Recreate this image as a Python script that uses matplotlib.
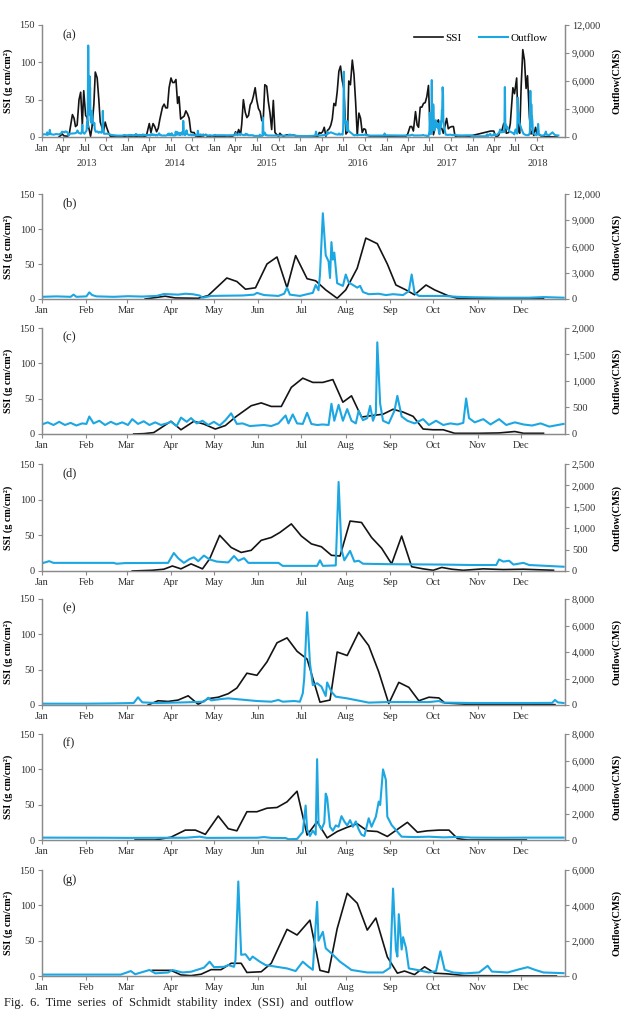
import numpy as np
import pandas as pd
import matplotlib
matplotlib.use('Agg')
import matplotlib.pyplot as plt
from matplotlib.ticker import StrMethodFormatter

plt.rcParams['font.family'] = ['Liberation Serif', 'DejaVu Serif']

## Data (day of year) ###########################################
years = [2013, 2014, 2015, 2016, 2017, 2018]
month_labels = ['Jan', 'Feb', 'Mar', 'Apr', 'May', 'Jun',
                'Jul', 'Aug', 'Sep', 'Oct', 'Nov', 'Dec']
month_days = [0, 31, 59, 90, 120, 151, 181, 212, 243, 273, 304, 334]
quarter_labels = ['Jan', 'Apr', 'Jul', 'Oct']

# SSI (g cm/cm2)
ssi_days_2013 = [72, 86, 93, 109, 116, 129, 136, 142, 149, 157,
                 164, 171, 177, 185, 191, 198, 206, 212, 220, 226,
                 234, 241, 247, 254, 260, 268, 274, 283, 290, 310,
                 330, 350]
ssi_2013 = [0, 4, 1.5, 1, 5, 30, 25, 14, 16, 50,
            60, 16, 62, 29, 26, 13, 1, 13, 44, 87,
            79, 50, 20, 13, 6, 20, 13, 5, 1, 0.5,
            0.5, 0.5]

ssi_days_2014 = [64, 71, 78, 90, 97, 106, 113, 121, 128, 135,
                 146, 153, 160, 167, 174, 182, 189, 196, 203, 210,
                 216, 223, 230, 238, 245, 252, 259, 266, 273, 280,
                 288, 297, 305, 319, 330, 336, 350]
ssi_2014 = [0, 0.5, 2, 18, 6, 18, 14, 7, 12, 24,
            40, 44, 39, 39, 66, 79, 73, 73, 77, 45,
            54, 24, 26, 28, 35, 31, 25, 7, 6, 6,
            1, 1, 1, 1.5, 3.5, 1, 1]

ssi_days_2015 = [63, 77, 85, 91, 97, 104, 112, 117, 124, 132,
                 139, 146, 153, 160, 166, 174, 181, 188, 195, 202,
                 208, 215, 223, 230, 237, 244, 251, 258, 266, 273,
                 279, 286, 294, 308, 322, 336, 357]
ssi_2015 = [0, 1, 2.5, 7, 3, 10, 3, 17, 50, 33,
            26, 29, 43, 47, 54, 66, 49, 38, 34, 22,
            21, 70, 68, 47, 32, 10, 49, 6, 3, 1,
            5, 2.5, 1, 3, 2, 2.5, 1]

ssi_days_2016 = [74, 81, 88, 95, 102, 109, 116, 123, 130, 136,
                 143, 150, 157, 164, 171, 178, 185, 194, 201, 206,
                 213, 221, 228, 235, 242, 249, 256, 263, 270, 277,
                 281, 300, 330, 358]
ssi_2016 = [0, 6, 5, 7, 13, 1, 9, 11, 16, 24,
            45, 42, 61, 88, 95, 76, 65, 4, 7, 75,
            70, 103, 84, 47, 2, 32, 25, 6, 11, 10,
            3, 0.5, 0.5, 0.5]

ssi_days_2017 = [65, 79, 90, 100, 107, 114, 123, 130, 136, 143,
                 150, 157, 164, 171, 178, 185, 192, 199, 206, 213,
                 220, 227, 234, 241, 248, 255, 262, 269, 277, 284,
                 290, 297, 338]
ssi_2017 = [0, 0, 4, 14, 14, 8, 34, 16, 13, 40,
            40, 45, 46, 54, 69, 7, 26, 3, 12, 18,
            23, 13, 12, 5, 15, 25, 11, 13, 14, 14,
            2, 0, 0]

ssi_days_2018 = [77, 90, 97, 104, 111, 118, 125, 132, 139, 143,
                 153, 160, 171, 178, 187, 194, 200, 206, 213, 220,
                 227, 233, 241, 248, 253, 260, 267, 274, 283, 295,
                 359]
ssi_2018 = [8, 8, 1.5, 0.5, 2.5, 9, 9, 18, 18, 5,
            6, 18, 66, 58, 79, 8, 5, 67, 117, 103,
            65, 82, 27, 4, 7, 2, 13, 4, 3, 0.5,
            0]

# Outflow (CMS)
flow_days_2013 = [0, 10, 20, 22, 24, 31, 33, 35, 38, 50,
                  60, 70, 80, 85, 95, 100, 105, 110, 112, 118,
                  130, 140, 148, 150, 155, 165, 169, 171, 173, 180,
                  185, 189, 191, 193, 194, 196, 198, 200, 201, 202,
                  203, 204, 206, 210, 212, 214, 217, 220, 222, 224,
                  228, 235, 240, 245, 252, 256, 258, 260, 263, 270,
                  280, 290, 300, 320, 340, 350, 364]
flow_2013 = [250, 300, 250, 500, 250, 300, 760, 450, 300, 250,
             320, 280, 350, 570, 500, 600, 550, 400, 150, 350,
             380, 400, 500, 700, 450, 350, 600, 1300, 500, 350,
             550, 700, 1600, 1000, 2800, 9800, 5000, 4300, 2400, 6500,
             4500, 5300, 1800, 1500, 2800, 1900, 1600, 1300, 1500, 800,
             550, 600, 450, 550, 450, 900, 2800, 700, 350, 350,
             350, 250, 200, 150, 150, 220, 150]

flow_days_2014 = [0, 4, 8, 12, 16, 20, 24, 28, 31, 33,
                  36, 40, 44, 48, 52, 56, 60, 63, 67, 71,
                  75, 79, 83, 87, 90, 94, 97, 101, 104, 108,
                  112, 116, 120, 124, 128, 132, 136, 140, 145, 150,
                  155, 160, 165, 170, 172, 175, 178, 182, 185, 188,
                  192, 196, 200, 202, 204, 207, 210, 213, 216, 219,
                  221, 224, 227, 229, 231, 233, 234, 236, 238, 242,
                  246, 248, 251, 255, 260, 266, 270, 275, 280, 285,
                  290, 294, 296, 298, 302, 308, 313, 319, 324, 330,
                  336, 342, 348, 354, 360, 364]
flow_2014 = [180, 220, 170, 230, 170, 210, 160, 200, 190, 330,
             200, 250, 170, 230, 180, 220, 170, 280, 190, 240,
             170, 220, 170, 200, 230, 150, 310, 230, 300, 200,
             250, 170, 230, 160, 260, 390, 190, 200, 150, 160,
             170, 150, 200, 350, 200, 370, 200, 190, 400, 190,
             170, 180, 170, 570, 250, 550, 250, 470, 250, 200,
             440, 260, 300, 530, 250, 400, 1730, 570, 250, 200,
             440, 720, 330, 250, 200, 280, 170, 250, 170, 200,
             180, 210, 670, 300, 220, 280, 180, 280, 170, 220,
             180, 160, 200, 140, 170, 190]

flow_days_2015 = [0, 5, 8, 50, 52, 58, 88, 92, 95, 99,
                  103, 106, 109, 113, 117, 122, 130, 134, 137, 141,
                  144, 165, 168, 192, 194, 196, 205, 207, 209, 211,
                  215, 218, 221, 224, 240, 280, 300, 317, 319, 322,
                  326, 329, 336, 340, 364]
flow_2015 = [180, 230, 190, 190, 170, 185, 190, 420, 300, 190,
             280, 320, 230, 360, 270, 220, 200, 350, 240, 300,
             190, 190, 120, 120, 250, 120, 130, 2080, 500, 250,
             470, 220, 240, 170, 160, 150, 140, 140, 270, 220,
             240, 150, 190, 140, 100]

flow_days_2016 = [0, 30, 50, 64, 67, 70, 80, 100, 113, 116,
                  118, 125, 130, 140, 150, 160, 165, 168, 176, 180,
                  182, 183, 185, 187, 189, 192, 195, 198, 199, 202,
                  205, 213, 221, 228, 240, 270, 277, 280, 300, 340,
                  356, 358, 360, 364]
flow_2016 = [100, 100, 120, 150, 580, 200, 150, 200, 250, 550,
             350, 450, 500, 400, 300, 250, 380, 250, 300, 250,
             880, 2000, 7000, 3150, 1500, 1640, 1390, 680, 1700, 1000,
             630, 500, 330, 180, 220, 220, 300, 180, 150, 150,
             160, 380, 200, 150]

flow_days_2017 = [0, 40, 60, 100, 110, 115, 150, 155, 160, 170,
                  172, 178, 182, 184, 185, 187, 189, 191, 192, 193,
                  195, 197, 198, 199, 201, 203, 205, 207, 209, 211,
                  213, 215, 217, 219, 221, 223, 225, 228, 230, 233,
                  235, 236, 238, 240, 241, 244, 246, 251, 260, 270,
                  280, 290, 300, 320, 340, 364]
flow_2017 = [180, 170, 160, 170, 250, 160, 170, 220, 160, 150,
             60, 80, 600, 2600, 800, 300, 700, 400, 6100, 1200,
             800, 1300, 3500, 3200, 1000, 700, 1100, 1000, 1800, 1400,
             1100, 1500, 1000, 1400, 800, 400, 300, 1640, 1000, 1760,
             2900, 2640, 5330, 4530, 1760, 1130, 880, 250, 220, 250,
             200, 230, 180, 170, 180, 180]

flow_days_2018 = [0, 55, 62, 65, 75, 79, 88, 91, 98, 104,
                  113, 117, 120, 127, 130, 134, 135, 137, 139, 142,
                  145, 147, 152, 156, 163, 171, 177, 182, 186, 189,
                  192, 193, 196, 198, 202, 208, 216, 227, 238, 243,
                  245, 247, 248, 249, 251, 252, 254, 256, 262, 270,
                  275, 278, 281, 287, 295, 305, 311, 314, 325, 333,
                  339, 344, 350, 364]
flow_2018 = [80, 80, 280, 100, 340, 150, 200, 340, 200, 240,
             470, 810, 500, 520, 620, 520, 900, 5350, 1200, 1230,
             900, 1100, 810, 620, 530, 430, 280, 810, 530, 350,
             4200, 2000, 2500, 1570, 1280, 810, 340, 200, 200, 470,
             4950, 1500, 1100, 3500, 1500, 2200, 1600, 430, 340, 200,
             280, 1400, 350, 200, 150, 200, 580, 250, 200, 380,
             500, 350, 200, 160]

panel_letters = ['(a)', '(b)', '(c)', '(d)', '(e)', '(f)', '(g)']
flow_max = [12000, 12000, 2000, 2500, 8000, 8000, 6000]
flow_step = [3000, 3000, 500, 500, 2000, 2000, 2000]
year_label_dates = ['2013-07-10', '2014-07-20', '2015-08-12',
                    '2016-09-02', '2017-09-14', '2018-10-05']

ssi_days = [ssi_days_2013, ssi_days_2014, ssi_days_2015,
            ssi_days_2016, ssi_days_2017, ssi_days_2018]
ssi_vals = [ssi_2013, ssi_2014, ssi_2015, ssi_2016, ssi_2017, ssi_2018]
flow_days = [flow_days_2013, flow_days_2014, flow_days_2015,
             flow_days_2016, flow_days_2017, flow_days_2018]
flow_vals = [flow_2013, flow_2014, flow_2015, flow_2016, flow_2017, flow_2018]

## Style ###########################################################
blue = '#1ca7e2'
black = '#141414'
grey = '#8a8a8a'
W, H = 624, 1010
tops = [25, 194, 328, 464, 599, 734, 870]        # axes top (px)
bottoms = [137, 299, 434, 571, 705, 840, 976]    # axes bottom (px)
left_px, right_px = 42, 565

fig = plt.figure(figsize=(W / 100, H / 100), dpi=100)


def style_axes(ax, ax2, fmax, fstep, letter):
    ax.set_ylim(0, 150)
    ax.set_yticks([0, 50, 100, 150])
    ax2.set_ylim(0, fmax)
    ax2.set_yticks(np.arange(0, fmax + 1, fstep))
    ax2.yaxis.set_major_formatter(StrMethodFormatter('{x:,.0f}'))
    for a in (ax, ax2):
        a.spines['top'].set_visible(False)
        for s in ('left', 'right', 'bottom'):
            a.spines[s].set_color(grey)
            a.spines[s].set_linewidth(0.9)
        a.tick_params(labelsize=7.5, colors=grey, labelcolor='#303030',
                      length=3, width=0.8, pad=2)
    ax.set_ylabel('SSI (g cm/cm²)', fontweight='bold', fontsize=7.3)
    ax.yaxis.set_label_coords(-0.056, 0.5)
    ax2.set_ylabel('Outflow(CMS)', fontweight='bold', fontsize=7.5)
    ax2.yaxis.set_label_coords(1.09, 0.5)
    ax.text(0.04, 0.91, letter, transform=ax.transAxes, fontsize=9,
            va='center', ha='left', color='#202020')


## Panel (a): whole series 2013-2018 #################################
start = pd.Timestamp('2013-01-01')
year_off = [(pd.Timestamp(f'{y}-01-01') - start).days for y in years]
x_ssi = np.concatenate([np.array(d) + o for d, o in zip(ssi_days, year_off)])
y_ssi = np.concatenate(ssi_vals)
x_flow = np.concatenate([np.array(d) + o for d, o in zip(flow_days, year_off)])
y_flow = np.concatenate(flow_vals)

rect = [left_px / W, 1 - bottoms[0] / H, (right_px - left_px) / W,
        (bottoms[0] - tops[0]) / H]
ax = fig.add_axes(rect)
ax2 = ax.twinx()
l1, = ax.plot(x_ssi, y_ssi, color=black, lw=1.2)
l2, = ax2.plot(x_flow, y_flow, color=blue, lw=1.5)
style_axes(ax, ax2, flow_max[0], flow_step[0], panel_letters[0])
qdates = pd.date_range('2013-01-01', '2018-10-01', freq='QS')
ax.set_xticks([(d - start).days for d in qdates])
ax.set_xticklabels([quarter_labels[(d.month - 1) // 3] for d in qdates])
ax.set_xlim(0, (pd.Timestamp('2019-01-28') - start).days)
for y, d in zip(years, year_label_dates):
    ax.text((pd.Timestamp(d) - start).days, -0.235, str(y),
            transform=ax.get_xaxis_transform(), ha='center', va='center',
            fontsize=7.5, color='#303030')
ax2.legend([l1, l2], ['SSI', 'Outflow'], loc='upper right',
           bbox_to_anchor=(0.985, 1.02), ncol=2, frameon=False,
           fontsize=8, handlelength=2.6, handletextpad=0.2,
           columnspacing=1.6)

## Panels (b)-(g): one year each ######################################
for i in range(6):
    rect = [left_px / W, 1 - bottoms[i + 1] / H, (right_px - left_px) / W,
            (bottoms[i + 1] - tops[i + 1]) / H]
    ax = fig.add_axes(rect)
    ax2 = ax.twinx()
    ax.plot(ssi_days[i], ssi_vals[i], color=black, lw=1.2)
    ax2.plot(flow_days[i], flow_vals[i], color=blue, lw=1.5)
    style_axes(ax, ax2, flow_max[i + 1], flow_step[i + 1], panel_letters[i + 1])
    ax.set_xticks(month_days)
    ax.set_xticklabels(month_labels)
    ax.set_xlim(0, 365)

# caption at the lower edge, as in the source scan
fig.text(0.006, 1.0 / H,
         'Fig.  6.  Time  series  of  Schmidt  stability  index  (SSI)  and  outflow',
         fontsize=9, va='bottom', ha='left', color='#202020')

fig.savefig('out.png', dpi=100)
